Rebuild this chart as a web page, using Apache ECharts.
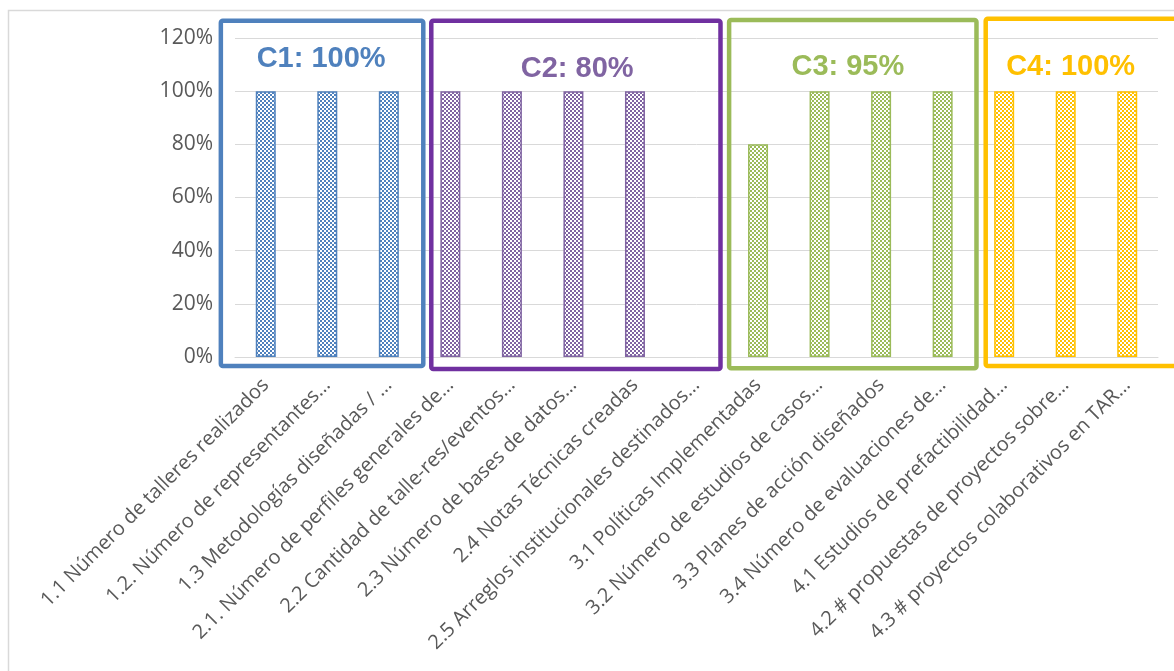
<!DOCTYPE html>
<html>
<head>
<meta charset="utf-8">
<script src="https://cdn.jsdelivr.net/npm/echarts@6/dist/echarts.min.js"></script>
<style>
  html, body { margin: 0; padding: 0; background: #fff; }
  #chart { width: 1174px; height: 671px; }
</style>
</head>
<body>
<div id="chart"></div>
<script>
// categorias (eje X)
const categories = [
  "1.1 Número de talleres realizados",
  "1.2. Número de representantes…",
  "1.3 Metodologías diseñadas / …",
  "2.1. Número de perfiles generales de…",
  "2.2 Cantidad de talle-res/eventos…",
  "2.3 Número de bases de datos…",
  "2.4 Notas Técnicas creadas",
  "2.5 Arreglos institucionales destinados…",
  "3.1 Políticas Implementadas",
  "3.2 Número de estudios de casos…",
  "3.3 Planes de acción diseñados",
  "3.4 Número de evaluaciones de…",
  "4.1 Estudios de prefactibilidad…",
  "4.2 # propuestas de proyectos sobre…",
  "4.3 # proyectos colaborativos en TAR…"
];
// avance (%)
const values = [100, 100, 100, 100, 100, 100, 100, 0, 80, 100, 100, 100, 100, 100, 100];
// componente de cada categoria
const groupOf = [0, 0, 0, 1, 1, 1, 1, 1, 2, 2, 2, 2, 3, 3, 3];
// titulos de los componentes
const groupTitles = ["C1: 100%", "C2: 80%", "C3: 95%", "C4: 100%"];
const yTicks = [0, 20, 40, 60, 80, 100, 120];

// estilos
const barColors = ["#4F81BD", "#8064A2", "#9BBB59", "#FFC000"];
const boxColors = ["#4F81BD", "#7030A0", "#9BBB59", "#FFC000"];
const titleColors = ["#4F81BD", "#8064A2", "#9BBB59", "#FFC000"];
// recuadros en unidades de categoria / valor
const boxLayout = [
  { x0: -0.73, x1: 2.56, y0: -3.4, y1: 126.5 },
  { x0: 2.69, x1: 7.39, y0: -4.5, y1: 126.5 },
  { x0: 7.53, x1: 11.55, y0: -4.2, y1: 126.8 },
  { x0: 11.7, x1: 15.5, y0: -3.4, y1: 127.2 }
];
const titleLayout = [
  { x: 0.9, y: 112 },
  { x: 5.06, y: 108.5 },
  { x: 9.46, y: 109.2 },
  { x: 13.08, y: 109.2 }
];

// patron de cuadros
const makePattern = (color) => {
  const c = document.createElement("canvas");
  c.width = 4;
  c.height = 4;
  const ctx = c.getContext("2d");
  ctx.fillStyle = "#ffffff";
  ctx.fillRect(0, 0, 4, 4);
  ctx.fillStyle = color;
  ctx.fillRect(0, 0, 2, 2);
  ctx.fillRect(2, 2, 2, 2);
  return { image: c, repeat: "repeat" };
};
const patterns = barColors.map(makePattern);

const chart = echarts.init(document.getElementById("chart"));

chart.setOption({
  animation: false,
  grid: { left: 235, right: 16, top: 38, bottom: 314 },
  xAxis: {
    type: "category",
    data: categories,
    axisLine: { lineStyle: { color: "#d9d9d9" } },
    axisTick: { show: false },
    axisLabel: {
      interval: 0,
      rotate: 45,
      margin: 25,
      color: "#595959",
      fontFamily: "Open Sans",
      fontSize: 20
    }
  },
  yAxis: {
    type: "value",
    min: yTicks[0],
    max: yTicks[yTicks.length - 1],
    interval: yTicks[1] - yTicks[0],
    axisLine: { show: false },
    axisTick: { show: false },
    splitLine: { lineStyle: { color: "#d9d9d9", width: 1 } },
    axisLabel: {
      formatter: "{value}%",
      margin: 22,
      color: "#595959",
      fontFamily: "Open Sans",
      fontSize: 21
    }
  },
  series: [
    {
      type: "bar",
      barWidth: 20,
      data: values.map((v, i) => ({
        value: v,
        itemStyle: {
          color: patterns[groupOf[i]],
          borderColor: barColors[groupOf[i]],
          borderWidth: v > 0 ? 1.5 : 0
        }
      }))
    }
  ]
});

// recuadros y titulos
const drawOverlay = () => {
  const toPx = (cx, vy) => {
    const band = chart.convertToPixel({ xAxisIndex: 0 }, 1) - chart.convertToPixel({ xAxisIndex: 0 }, 0);
    const x0 = chart.convertToPixel({ xAxisIndex: 0 }, 0);
    return [x0 + cx * band, chart.convertToPixel({ yAxisIndex: 0 }, vy)];
  };
  const elements = [
    {
      type: "rect",
      shape: { x: 8.5, y: 10.5, width: 1300, height: 800 },
      style: { fill: "none", stroke: "#d9d9d9", lineWidth: 1.5 },
      silent: true
    }
  ];
  boxLayout.forEach((b, i) => {
    const p0 = toPx(b.x0, b.y1);
    const p1 = toPx(b.x1, b.y0);
    elements.push({
      type: "rect",
      shape: { x: p0[0], y: p0[1], width: p1[0] - p0[0], height: p1[1] - p0[1], r: 2 },
      style: { fill: "none", stroke: boxColors[i], lineWidth: 4.5 },
      silent: true,
      z: 10
    });
  });
  titleLayout.forEach((t, i) => {
    const p = toPx(t.x, t.y);
    elements.push({
      type: "text",
      x: p[0],
      y: p[1],
      style: {
        text: groupTitles[i],
        fill: titleColors[i],
        font: "bold 29px 'Liberation Sans', Arial, sans-serif",
        align: "center",
        verticalAlign: "middle"
      },
      silent: true,
      z: 11
    });
  });
  chart.setOption({ graphic: { elements: elements } });
};
drawOverlay();
</script>
</body>
</html>
